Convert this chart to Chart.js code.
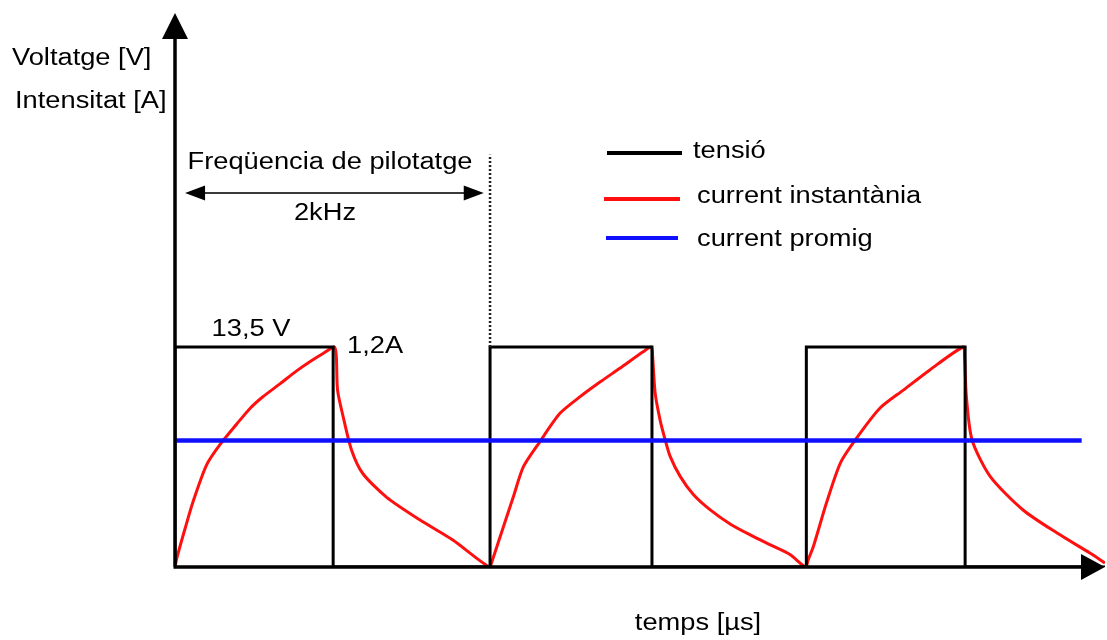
<!DOCTYPE html>
<html>
<head>
<meta charset="utf-8">
<script src="https://cdn.jsdelivr.net/npm/chart.js@4.4.1/dist/chart.umd.min.js"></script>
<style>
  html, body { margin: 0; padding: 0; background: #ffffff; }
  #wrap { width: 1107px; height: 640px; }
</style>
</head>
<body>
<div id="wrap"><canvas id="c" width="1107" height="640"></canvas></div>
<script>
// PWM drive at 2 kHz: supply voltage square wave, instantaneous coil current, mean current.
// Time in microseconds, voltage in V, current in A.

const voltageTimes  = [0, 0, 251, 251, 500, 500, 757, 757, 1002, 1002, 1254, 1254, 1476];
const voltageValues = [0, 13.5, 13.5, 0, 0, 13.5, 13.5, 0, 0, 13.5, 13.5, 0, 0];

const currentTimes = [
  0, 3, 16, 29, 50, 71, 98, 119, 140, 167, 193, 214, 235, 253,
  256, 258, 267, 280, 298, 336, 389, 441, 499,
  504, 516, 537, 553, 579, 611, 643, 675, 706, 743, 756,
  758, 762, 770, 778, 786, 802, 823, 849, 881, 913, 944, 976, 1001,
  1005, 1013, 1034, 1056, 1082, 1119, 1156, 1198, 1251,
  1253, 1256, 1265, 1294, 1346, 1400, 1452, 1476
];
const currentValues = [
  0, 0.05, 0.21, 0.36, 0.556, 0.666, 0.78, 0.865, 0.93, 1.0, 1.07, 1.12, 1.165, 1.2,
  1.15, 0.965, 0.818, 0.64, 0.51, 0.38, 0.256, 0.147, 0.0,
  0.04, 0.165, 0.383, 0.547, 0.683, 0.838, 0.929, 1.01, 1.084, 1.174, 1.2,
  1.15, 0.95, 0.80, 0.693, 0.602, 0.493, 0.394, 0.313, 0.235, 0.175, 0.122, 0.068, 0.0,
  0.04, 0.11, 0.35, 0.567, 0.704, 0.867, 0.965, 1.075, 1.2,
  1.15, 0.929, 0.693, 0.493, 0.311, 0.185, 0.076, 0.022
];

const averageTimes  = [0, 1439];
const averageValues = [0.69, 0.69];

// End of the first period, where the dotted marker stands (V scale)
const markerTimes  = [500, 500];
const markerValues = [13.5, 25.3];

const seriesLabels = ['tensió', 'current instantània', 'current promig'];
const seriesColors = ['#000000', '#ff1010', '#1010ff'];

const axisTitleY   = ['Voltatge [V]', 'Intensitat [A]'];
const axisTitleX   = 'temps [µs]';
const periodTitle  = 'Freqüencia de pilotatge';
const periodValue  = '2kHz';
const peakVoltage  = '13,5 V';
const peakCurrent  = '1,2A';

const PEAK_A = 1.2, PEAK_V = 13.5;
const Y_MAX_A = 3.0;
const Y_MAX_V = Y_MAX_A / PEAK_A * PEAK_V;

const zip = (xs, ys) => xs.map((x, i) => ({ x: x, y: ys[i] }));

const FONT = '"Liberation Sans", Arial, sans-serif';
function stretchedText(ctx, txt, x, y, size, align, sx) {
  ctx.save();
  ctx.font = size + 'px ' + FONT;
  ctx.fillStyle = '#000000';
  ctx.textBaseline = 'middle';
  ctx.textAlign = 'left';
  const w = ctx.measureText(txt).width * sx;
  let left = x;
  if (align === 'center') left = x - w / 2;
  else if (align === 'right') left = x - w;
  ctx.translate(left, y);
  ctx.scale(sx, 1);
  ctx.fillText(txt, 0, 0);
  ctx.restore();
}

function arrowHead(ctx, tipX, tipY, dir, len, half) {
  ctx.beginPath();
  if (dir === 'up') {
    ctx.moveTo(tipX, tipY);
    ctx.lineTo(tipX - half, tipY + len);
    ctx.lineTo(tipX + half, tipY + len);
  } else if (dir === 'right') {
    ctx.moveTo(tipX, tipY);
    ctx.lineTo(tipX - len, tipY - half);
    ctx.lineTo(tipX - len, tipY + half);
  } else if (dir === 'left') {
    ctx.moveTo(tipX, tipY);
    ctx.lineTo(tipX + len, tipY - half);
    ctx.lineTo(tipX + len, tipY + half);
  }
  ctx.closePath();
  ctx.fill();
}

const decorations = {
  id: 'decorations',
  afterDatasetsDraw(chart) {
    const ctx = chart.ctx;
    const xs = chart.scales.x, ya = chart.scales.yA;
    const ca = chart.chartArea;
    const x0 = xs.getPixelForValue(0);
    const y0 = ya.getPixelForValue(0);
    const SX = 1.16, FS = 23.5;

    // axes with arrow heads
    ctx.save();
    ctx.strokeStyle = '#000000';
    ctx.fillStyle = '#000000';
    ctx.lineWidth = 3.5;
    ctx.beginPath();
    ctx.moveTo(x0, y0);
    ctx.lineTo(x0, ca.top + 20);
    ctx.moveTo(x0 - 1.5, y0);
    ctx.lineTo(ca.right - 20, y0);
    ctx.stroke();
    arrowHead(ctx, x0, ca.top - 4, 'up', 26, 13);
    arrowHead(ctx, ca.right, y0, 'right', 24, 13);

    // period marker: double arrow spanning one period
    const pa = xs.getPixelForValue(16), pb = xs.getPixelForValue(490);
    const py = 193;
    ctx.strokeStyle = '#3a3a3a';
    ctx.lineWidth = 2.2;
    ctx.beginPath();
    ctx.moveTo(pa + 10, py);
    ctx.lineTo(pb - 10, py);
    ctx.stroke();
    ctx.fillStyle = '#000000';
    arrowHead(ctx, pa, py, 'left', 20, 7.5);
    arrowHead(ctx, pb, py, 'right', 20, 7.5);
    ctx.restore();

    // legend
    ctx.save();
    const legendRows = [
      { x1: 607, x2: 682, y: 153, tx: 693, ty: 152 },
      { x1: 604, x2: 680, y: 199, tx: 697, ty: 197 },
      { x1: 606, x2: 678, y: 238, tx: 697, ty: 240 }
    ];
    ctx.lineWidth = 4;
    legendRows.forEach((r, i) => {
      ctx.strokeStyle = seriesColors[i];
      ctx.beginPath();
      ctx.moveTo(r.x1, r.y);
      ctx.lineTo(r.x2, r.y);
      ctx.stroke();
      stretchedText(ctx, seriesLabels[i], r.tx, r.ty, FS, 'left', SX);
    });
    ctx.restore();

    // texts
    stretchedText(ctx, axisTitleY[0], 12, 59, FS, 'left', SX);
    stretchedText(ctx, axisTitleY[1], 15, 102, FS, 'left', SX);
    stretchedText(ctx, axisTitleX, 698, 624, FS, 'center', SX);
    stretchedText(ctx, periodTitle, 330, 163, FS, 'center', SX);
    stretchedText(ctx, periodValue, 325, 214, FS, 'center', SX);
    stretchedText(ctx, peakVoltage, 251, 330, FS, 'center', SX);
    stretchedText(ctx, peakCurrent, 347, 347, FS, 'left', SX);
  }
};

new Chart(document.getElementById('c'), {
  type: 'line',
  data: {
    datasets: [
      {
        label: 'marker',
        data: zip(markerTimes, markerValues),
        yAxisID: 'yV',
        borderColor: '#222222',
        borderWidth: 2.5,
        borderDash: [2, 2],
        pointRadius: 0,
        tension: 0
      },
      {
        label: seriesLabels[2],
        data: zip(averageTimes, averageValues),
        yAxisID: 'yA',
        borderColor: seriesColors[2],
        borderWidth: 4.5,
        pointRadius: 0,
        tension: 0
      },
      {
        label: seriesLabels[0],
        data: zip(voltageTimes, voltageValues),
        yAxisID: 'yV',
        borderColor: seriesColors[0],
        borderWidth: 3,
        pointRadius: 0,
        tension: 0
      },
      {
        label: seriesLabels[1],
        data: zip(currentTimes, currentValues),
        yAxisID: 'yA',
        borderColor: seriesColors[1],
        borderWidth: 3,
        pointRadius: 0,
        tension: 0.25
      }
    ]
  },
  options: {
    responsive: false,
    animation: false,
    layout: { padding: { left: 175, right: 2, top: 17, bottom: 73 } },
    scales: {
      x: { type: 'linear', min: 0, max: 1476, display: false },
      yA: { type: 'linear', min: 0, max: Y_MAX_A, display: false },
      yV: { type: 'linear', min: 0, max: Y_MAX_V, display: false }
    },
    plugins: {
      legend: { display: false },
      tooltip: { enabled: false }
    }
  },
  plugins: [decorations]
});
</script>
</body>
</html>
